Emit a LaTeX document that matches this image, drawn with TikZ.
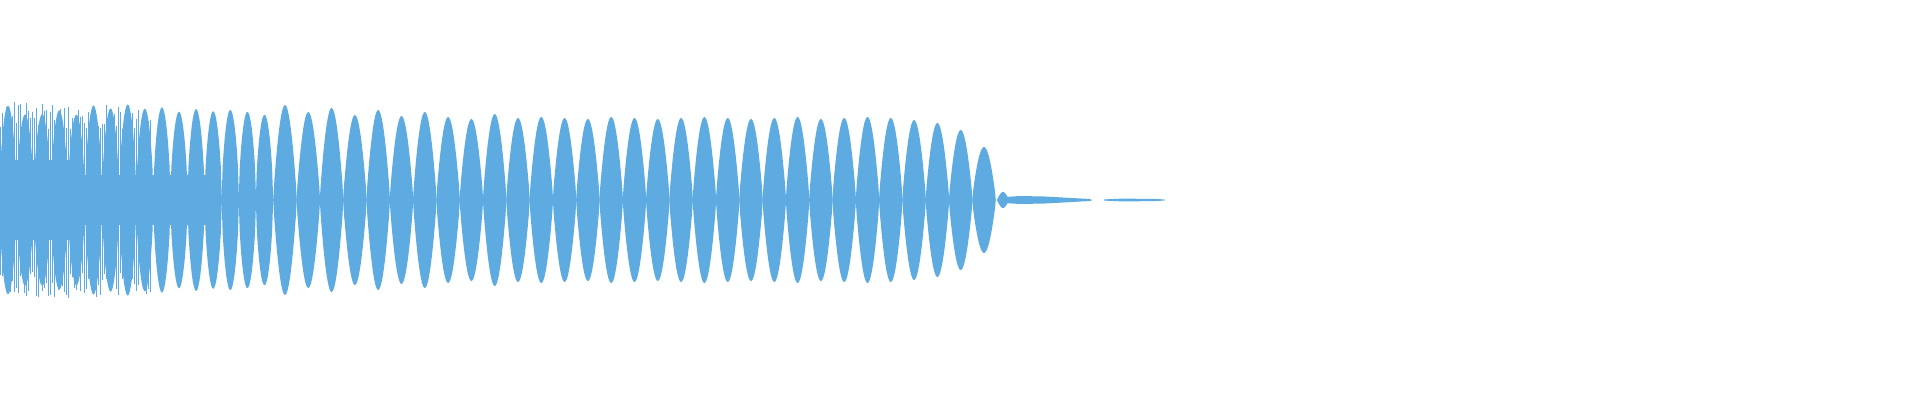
\documentclass[tikz,border=0pt]{standalone}
\definecolor{wave}{HTML}{5DABE1}
\begin{document}
\begin{tikzpicture}[x=1pt,y=-1pt]
\useasboundingbox (0,0) rectangle (1920,400);
\pgfmathsetseed{7}
% dense early region
\fill[wave] (0,160) rectangle (75,240);
\fill[wave] (75,175) rectangle (210,225);
\foreach \i in {0,...,15}{
  \pgfmathsetmacro{\c}{8+17.1*\i}
  \pgfmathsetmacro{\A}{84+12*rnd}
  \fill[wave] plot[domain=-1:1,samples=17] ({\c+8.7*\x},{200-\A*cos(90*\x)^0.6})
    -- plot[domain=1:-1,samples=17] ({\c+8.7*\x},{200+\A*cos(90*\x)^0.6}) -- cycle;
}
\foreach \xx in {0,2,...,150}{
  \pgfmathsetmacro{\h}{70+28*rnd}
  \pgfmathsetmacro{\hb}{70+28*rnd}
  \fill[wave] (\xx,200-\h) rectangle ++(1.2,\h+\hb);
}
% regular lobes
\foreach \k/\A in {0/53,1/70,2/77,3/80,4/82,5/83,6/82,7/81,8/83,9/82,10/81,11/82,12/83,13/82,14/81,15/82,16/83,17/81,18/82,19/83,20/82,21/86,22/81,23/83,24/88,25/84,26/90,27/85,28/92,29/88,30/95}{
  \pgfmathsetmacro{\c}{984-23.3*\k}
  \fill[wave] plot[domain=-1:1,samples=25] ({\c+11.8*\x},{200-\A*cos(90*\x)^0.85})
    -- plot[domain=1:-1,samples=25] ({\c+11.8*\x},{200+\A*cos(90*\x)^0.85}) -- cycle;
}
% tail
\fill[wave] plot[domain=-1:1,samples=15] ({1003+6*\x},{200-8*cos(90*\x)})
  -- plot[domain=1:-1,samples=15] ({1003+6*\x},{200+8*cos(90*\x)}) -- cycle;
\fill[wave] (1005,197) -- (1020,196) -- (1045,196.5) -- (1090,199) -- (1092,200) -- (1090,201) -- (1045,203.5) -- (1020,204) -- (1005,203) -- cycle;
\fill[wave] (1104,199.4) -- (1120,198.7) -- (1155,198.8) -- (1165,199.6) -- (1165,200.4) -- (1155,201.2) -- (1120,201.3) -- (1104,200.6) -- cycle;
\end{tikzpicture}
\end{document}
